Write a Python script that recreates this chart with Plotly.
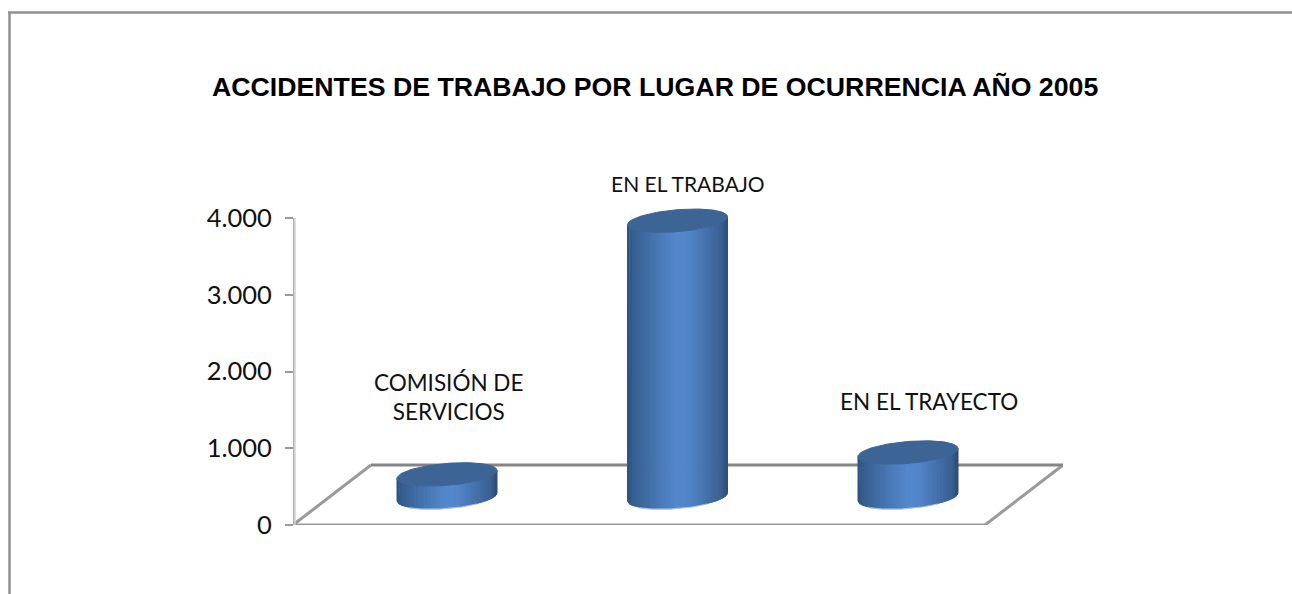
import numpy as np
import plotly.graph_objects as go

# ---- data ----
title = "ACCIDENTES DE TRABAJO POR LUGAR DE OCURRENCIA AÑO 2005"
categories = ["COMISIÓN DE<br>SERVICIOS", "EN EL TRABAJO", "EN EL TRAYECTO"]
values = [295, 3600, 580]
tick_values = [0, 1000, 2000, 3000, 4000]
tick_labels = ["0", "1.000", "2.000", "3.000", "4.000"]
axis_max = 4000

# ---- page layout (pixels) ----
W, H = 1292, 594
PX_LEFT, PX_RIGHT, PX_Y0, PX_YMAX = 293, 1063, 525, 218
PX_HEADROOM = 20   # plot area continues above the top tick so the tallest cylinder is not cut
Y_PER_PX = axis_max / (PX_Y0 - PX_YMAX)
X_PER_PX = 1 / 230.5
X_MIN = (PX_LEFT - 447) * X_PER_PX
X_MAX = (PX_RIGHT - 447) * X_PER_PX

# floor / cylinder geometry in axis units
FLOOR_BACK = 60 * Y_PER_PX
FLOOR_SHIFT = 78 * X_PER_PX
FLOOR_MID = 28 * Y_PER_PX
RADIUS_X = 50 * X_PER_PX
RADIUS_Y = 11 * Y_PER_PX
TILT = 4 * Y_PER_PX
N_STRIPS = 44

GRADIENT = [(0.0, (44, 80, 126)), (0.06, (54, 94, 144)), (0.25, (68, 114, 172)),
            (0.5, (84, 136, 204)), (0.62, (82, 133, 200)), (0.85, (64, 106, 162)),
            (0.95, (58, 94, 144)), (1.0, (44, 74, 116))]


def colour(u):
    ps = [g[0] for g in GRADIENT]
    rgb = [np.interp(u, ps, [g[1][k] for g in GRADIENT]) for k in range(3)]
    return "rgb(%d,%d,%d)" % tuple(int(round(c)) for c in rgb)


def front_arc(cx, cy, u):
    """Height of the front edge of a tilted ellipse at relative position u (0..1)."""
    c = 2 * u - 1
    s = -np.sqrt(np.maximum(0, 1 - c * c))
    return cx + RADIUS_X * c, cy + RADIUS_Y * s + TILT * c


fig = go.Figure()

# floor
floor_x0 = X_MIN
floor_x1 = floor_x0 + (985 - PX_LEFT) * X_PER_PX
for xs, ys, col, w in [
    ([floor_x0, floor_x0 + FLOOR_SHIFT], [0, FLOOR_BACK], "#9a9a9a", 3),
    ([floor_x1, floor_x1 + FLOOR_SHIFT], [0, FLOOR_BACK], "#9a9a9a", 3),
    ([floor_x0 + FLOOR_SHIFT, floor_x1 + FLOOR_SHIFT], [FLOOR_BACK, FLOOR_BACK], "#858585", 3),
    ([floor_x0, floor_x1], [0, 0], "#9a9a9a", 3),
]:
    fig.add_trace(go.Scatter(x=xs, y=ys, mode="lines", line=dict(color=col, width=w),
                             hoverinfo="skip", showlegend=False, cliponaxis=False))

# value axis line, stopping at the top tick, with its lilac edge
fig.add_trace(go.Scatter(x=[X_MIN + 2 * X_PER_PX] * 2, y=[0, axis_max], mode="lines",
                         line=dict(color="#cfcfee", width=1.5), hoverinfo="skip",
                         showlegend=False, cliponaxis=False))
fig.add_trace(go.Scatter(x=[X_MIN] * 2, y=[0, axis_max], mode="lines",
                         line=dict(color="#b0b0b0", width=2.5), hoverinfo="skip",
                         showlegend=False, cliponaxis=False))

# cylinder sides, one trace per gradient strip
edges = np.linspace(0, 1, N_STRIPS + 1)
for i in range(N_STRIPS):
    xs, ys = [], []
    us = np.linspace(edges[i], edges[i + 1], 4)
    for cx, v in enumerate(values):
        xb, yb = front_arc(cx, FLOOR_MID, us)
        xt, yt = front_arc(cx, FLOOR_MID + v, us)
        xs += list(xb) + list(xt[::-1]) + [xb[0], None]
        ys += list(yb) + list(yt[::-1]) + [yb[0], None]
    c = colour((edges[i] + edges[i + 1]) / 2)
    fig.add_trace(go.Scatter(x=xs, y=ys, mode="lines", fill="toself", fillcolor=c, cliponaxis=False,
                             line=dict(color=c, width=1), hoverinfo="skip", showlegend=False))

# pale lip on the bottom edge, and the flat tops
us = np.linspace(0.12, 0.8, 40)
lip_x, lip_y, top_x, top_y = [], [], [], []
t = np.linspace(0, 2 * np.pi, 120)
for cx, v in enumerate(values):
    xb, yb = front_arc(cx, FLOOR_MID - 0.6 * Y_PER_PX, us)
    lip_x += list(xb) + [None]
    lip_y += list(yb) + [None]
    top_x += list(cx + RADIUS_X * np.cos(t)) + [None]
    top_y += list(FLOOR_MID + v + RADIUS_Y * np.sin(t) + TILT * np.cos(t)) + [None]
fig.add_trace(go.Scatter(x=lip_x, y=lip_y, mode="lines", line=dict(color="#a9c3e4", width=1.2),
                         hoverinfo="skip", showlegend=False, cliponaxis=False))
fig.add_trace(go.Scatter(x=top_x, y=top_y, mode="lines", fill="toself", fillcolor="#3c6596", cliponaxis=False,
                         line=dict(color="#3c6596", width=1), hoverinfo="skip", showlegend=False))

# category labels beside their cylinders
label_pos = [(0, 1, 397, 22.5), (1, 10, 183, 21), (2, 21, 401, 22.5)]
annotations = [
    dict(x=i + dx * X_PER_PX, y=1 - py / H, xref="x", yref="paper", text=categories[i],
         showarrow=False, font=dict(family="Lato", size=size, color="#111111"),
         xanchor="center", yanchor="middle", align="center")
    for i, dx, py, size in label_pos
]
annotations.append(dict(x=655 / W, y=1 - 87 / H, xref="paper", yref="paper", text="<b>%s</b>" % title,
                        showarrow=False, font=dict(family="Liberation Sans", size=26.7, color="#000000"),
                        xanchor="center", yanchor="middle"))

frame = dict(type="line", xref="paper", yref="paper", line=dict(color="#8f8f8f", width=2.5))
shapes = [
    dict(frame, x0=9.5 / W, x1=9.5 / W, y0=0, y1=1 - 12 / H),
    dict(frame, x0=8 / W, x1=1, y0=1 - 12.5 / H, y1=1 - 12.5 / H),
]

fig.update_layout(
    width=W, height=H, margin=dict(l=0, r=0, t=0, b=0, autoexpand=False),
    paper_bgcolor="#ffffff", plot_bgcolor="#ffffff", showlegend=False,
    separators=",.", annotations=annotations, shapes=shapes,
    xaxis=dict(domain=[PX_LEFT / W, PX_RIGHT / W], range=[X_MIN, X_MAX], visible=False),
    yaxis=dict(domain=[1 - PX_Y0 / H, 1 - (PX_YMAX - PX_HEADROOM) / H],
               range=[0, axis_max + PX_HEADROOM * Y_PER_PX], anchor="free", position=PX_LEFT / W,
               tickvals=tick_values, ticktext=tick_labels, ticks="outside", ticklen=8, tickwidth=2,
               tickcolor="#9a9a9a", showline=False, showgrid=False,
               zeroline=False, ticklabelstandoff=8, tickfont=dict(family="Lato", size=25.5, color="#111111")),
)

fig.write_html("out.html", config=dict(displayModeBar=False),
               post_script="document.body.style.margin='0';window.dispatchEvent(new Event('resize'));")
